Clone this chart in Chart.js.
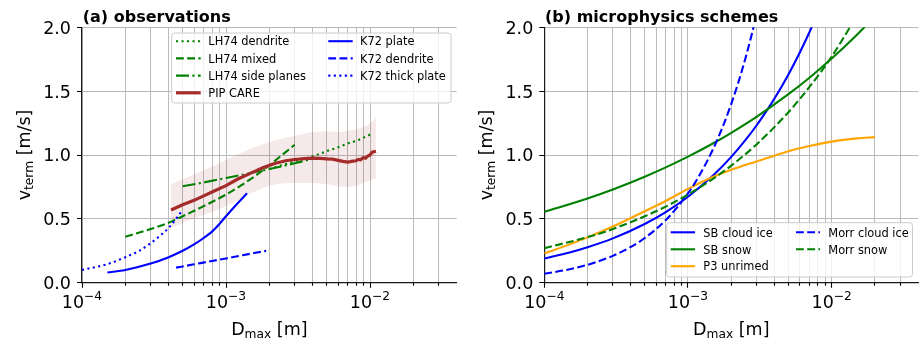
<!DOCTYPE html>
<html>
<head>
<meta charset="utf-8">
<script src="https://cdn.jsdelivr.net/npm/chart.js@4.4.1/dist/chart.umd.min.js"></script>
<style>
  html, body { margin:0; padding:0; background:#ffffff; }
  #wrap { position:relative; width:920px; height:341px; overflow:hidden; background:#fff; }
  canvas { position:absolute; top:0; }
  #c1 { left:0; }
  #c2 { left:460px; }
</style>
</head>
<body>
<div id="wrap">
  <canvas id="c1" width="460" height="341" style="width:460px;height:341px"></canvas>
  <canvas id="c2" width="460" height="341" style="width:460px;height:341px"></canvas>
</div>
<script>
// ================= DATA: (a) observations =================
const lh74DendriteD = [2e-3, 3e-3, 4e-3, 5e-3, 6e-3, 7e-3, 8e-3, 1e-2];
const lh74DendriteV = [0.89, 0.95, 0.99, 1.03, 1.06, 1.09, 1.11, 1.16];

const lh74MixedD = [2e-4, 3e-4, 4e-4, 5e-4, 7e-4, 1e-3, 1.5e-3, 2e-3, 3e-3];
const lh74MixedV = [0.36, 0.42, 0.47, 0.52, 0.60, 0.69, 0.815, 0.92, 1.08];

const lh74SidePlanesD = [5e-4, 7e-4, 1e-3, 1.5e-3, 2e-3, 3e-3, 4e-3];
const lh74SidePlanesV = [0.755, 0.785, 0.82, 0.86, 0.89, 0.935, 0.97];

const pipCareD = [4.15e-4, 5e-4, 6e-4, 7e-4, 8e-4, 1e-3, 1.2e-3, 1.5e-3, 1.8e-3, 2.2e-3, 2.6e-3, 3e-3, 3.5e-3, 4e-3, 4.5e-3, 5e-3, 5.5e-3, 6e-3, 6.5e-3, 7e-3, 7.3e-3, 7.6e-3, 8e-3, 8.3e-3, 8.6e-3, 9e-3, 9.3e-3, 9.6e-3, 1e-2, 1.03e-2, 1.06e-2, 1.1e-2];
const pipCareV = [0.57, 0.61, 0.645, 0.68, 0.71, 0.76, 0.81, 0.86, 0.90, 0.935, 0.955, 0.965, 0.972, 0.975, 0.974, 0.97, 0.968, 0.958, 0.95, 0.945, 0.948, 0.952, 0.955, 0.965, 0.962, 0.98, 0.975, 0.99, 1.0, 1.02, 1.025, 1.03];

const pipBandD = [4.15e-4, 5e-4, 7e-4, 1e-3, 1.5e-3, 2e-3, 3e-3, 4e-3, 5e-3, 6e-3, 7e-3, 8e-3, 9e-3, 1e-2, 1.1e-2];
const pipBandLow = [0.43, 0.47, 0.53, 0.60, 0.70, 0.76, 0.78, 0.78, 0.77, 0.755, 0.75, 0.76, 0.78, 0.80, 0.82];
const pipBandHigh = [0.77, 0.81, 0.88, 0.96, 1.05, 1.10, 1.15, 1.18, 1.185, 1.18, 1.19, 1.20, 1.22, 1.25, 1.29];

const k72PlateD = [1.5e-4, 2e-4, 3e-4, 4e-4, 5e-4, 6e-4, 7e-4, 8e-4, 9e-4, 1e-3, 1.2e-3, 1.4e-3];
const k72PlateV = [0.08, 0.10, 0.15, 0.20, 0.25, 0.30, 0.35, 0.40, 0.46, 0.52, 0.62, 0.70];

const k72DendriteD = [4.5e-4, 6e-4, 8e-4, 1e-3, 1.3e-3, 1.6e-3, 1.9e-3];
const k72DendriteV = [0.118, 0.144, 0.17, 0.19, 0.215, 0.234, 0.249];

const k72ThickPlateD = [1e-4, 1.5e-4, 2e-4, 2.5e-4, 3e-4, 3.5e-4, 4e-4, 4.5e-4, 5e-4];
const k72ThickPlateV = [0.10, 0.145, 0.20, 0.25, 0.31, 0.37, 0.43, 0.50, 0.57];

// ================= DATA: (b) microphysics schemes =================
const sbCloudIceD = [1e-4, 1.5e-4, 2e-4, 3e-4, 5e-4, 7e-4, 1e-3, 1.5e-3, 2e-3, 2.5e-3, 3e-3, 3.5e-3, 4e-3, 5e-3, 6e-3, 7e-3, 7.5e-3];
const sbCloudIceV = [0.19, 0.237, 0.278, 0.347, 0.46, 0.553, 0.673, 0.841, 0.985, 1.114, 1.231, 1.341, 1.442, 1.631, 1.803, 1.961, 2.037];

const sbSnowD = [1e-4, 2e-4, 3e-4, 5e-4, 7e-4, 1e-3, 1.5e-3, 2e-3, 3e-3, 5e-3, 7e-3, 1e-2, 1.5e-2, 2e-2];
const sbSnowV = [0.555, 0.66, 0.73, 0.83, 0.903, 0.987, 1.092, 1.174, 1.299, 1.476, 1.605, 1.755, 1.942, 2.087];

const p3UnrimedD = [1e-4, 1.5e-4, 2e-4, 3e-4, 5e-4, 7e-4, 1e-3, 1.5e-3, 2e-3, 3e-3, 4e-3, 5e-3, 7e-3, 1e-2, 1.5e-2, 2e-2];
const p3UnrimedV = [0.23, 0.30, 0.355, 0.44, 0.56, 0.64, 0.735, 0.83, 0.885, 0.95, 0.995, 1.03, 1.07, 1.105, 1.13, 1.14];

const morrCloudIceD = [1e-4, 1.5e-4, 2e-4, 3e-4, 4e-4, 5e-4, 7e-4, 1e-3, 1.2e-3, 1.5e-3, 1.75e-3, 2e-3, 2.25e-3, 2.5e-3, 2.75e-3, 3e-3];
const morrCloudIceV = [0.07, 0.105, 0.14, 0.21, 0.28, 0.35, 0.49, 0.70, 0.84, 1.05, 1.225, 1.40, 1.575, 1.75, 1.925, 2.10];

const morrSnowD = [1e-4, 2e-4, 3e-4, 5e-4, 7e-4, 1e-3, 1.5e-3, 2e-3, 3e-3, 5e-3, 7e-3, 1e-2, 1.2e-2, 1.4e-2];
const morrSnowV = [0.27, 0.357, 0.42, 0.52, 0.596, 0.69, 0.815, 0.917, 1.083, 1.335, 1.533, 1.77, 1.912, 2.036];

// ================= AXES =================
const xMin = 1e-4, xMax = 0.04;
const yMin = 0, yMax = 2;
const yTicks = [0, 0.5, 1.0, 1.5, 2.0];
const yTickLabels = ['0.0', '0.5', '1.0', '1.5', '2.0'];
const xMajorTicks = [1e-4, 1e-3, 1e-2];
const xMajorBase = ['10', '10', '10'];
const xMajorExp = ['\u22124', '\u22123', '\u22122'];
const xGridMantissas = [1, 2, 3, 4, 5, 6, 7, 8, 9];
const xGridDecades = [-4, -3, -2];

// ================= STYLE =================
const FONT = '"DejaVu Sans", "Liberation Sans", sans-serif';
const DASHED = [7.8, 3.4];
const DOTTED = [2.1, 3.4];
const DASHDOT = [13, 3.4, 2.1, 3.4];
const LW = 2.1;
const GREEN = '#008000', BLUE = '#0000ff', ORANGE = '#ffa500', BROWN = '#a52a2a';
const GRID = '#bababa';

const gridX = [];
xGridDecades.forEach(e => xGridMantissas.forEach(m => {
  const v = m * Math.pow(10, e);
  if (v < xMax * 0.99) gridX.push({ v: v, major: m === 1 });
}));

function pts(xs, ys) { return xs.map((x, i) => ({ x: x, y: ys[i] })); }

function lineDs(label, xs, ys, color, dash, width, order, smooth) {
  return {
    label: label, data: pts(xs, ys), borderColor: color, backgroundColor: color,
    borderDash: dash, borderWidth: width, pointRadius: 0, pointHoverRadius: 0,
    fill: false, order: order, tension: 0,
    cubicInterpolationMode: smooth ? 'monotone' : 'default', clip: 0
  };
}

function makeScales() {
  return {
    x: {
      type: 'logarithmic', min: xMin, max: xMax,
      afterBuildTicks(s) { s.ticks = gridX.map(g => ({ value: g.v })); },
      ticks: { display: false },
      grid: { color: GRID, lineWidth: 1, drawTicks: false },
      border: { display: true, color: '#1a1a1a', width: 1.2 }
    },
    y: {
      type: 'linear', min: yMin, max: yMax,
      afterBuildTicks(s) { s.ticks = yTicks.map(v => ({ value: v })); },
      ticks: { display: false },
      grid: { color: GRID, lineWidth: 1, drawTicks: false },
      border: { display: true, color: '#1a1a1a', width: 1.2 }
    }
  };
}

function align(p, w) { return Math.round(p - w / 2) + w / 2; }

function drawSubLabel(ctx, parts, cx, baseline, fs) {
  // parts: [text, sub, tail]
  const fsS = fs * 0.7;
  ctx.font = fs + 'px ' + FONT; const w1 = ctx.measureText(parts[0]).width;
  ctx.font = fsS + 'px ' + FONT; const w2 = ctx.measureText(parts[1]).width;
  ctx.font = fs + 'px ' + FONT; const w3 = ctx.measureText(parts[2]).width;
  let x = cx - (w1 + w2 + w3) / 2;
  ctx.textAlign = 'left'; ctx.textBaseline = 'alphabetic';
  ctx.font = fs + 'px ' + FONT; ctx.fillText(parts[0], x, baseline); x += w1;
  ctx.font = fsS + 'px ' + FONT; ctx.fillText(parts[1], x, baseline + 3.2); x += w2;
  ctx.font = fs + 'px ' + FONT; ctx.fillText(parts[2], x, baseline);
}

function drawLegend(ctx, L) {
  ctx.save();
  const r = 3;
  ctx.beginPath();
  ctx.moveTo(L.x + r, L.y); ctx.lineTo(L.x + L.w - r, L.y);
  ctx.arcTo(L.x + L.w, L.y, L.x + L.w, L.y + r, r);
  ctx.lineTo(L.x + L.w, L.y + L.h - r);
  ctx.arcTo(L.x + L.w, L.y + L.h, L.x + L.w - r, L.y + L.h, r);
  ctx.lineTo(L.x + r, L.y + L.h);
  ctx.arcTo(L.x, L.y + L.h, L.x, L.y + L.h - r, r);
  ctx.lineTo(L.x, L.y + r);
  ctx.arcTo(L.x, L.y, L.x + r, L.y, r);
  ctx.closePath();
  ctx.fillStyle = 'rgba(255,255,255,0.8)'; ctx.fill();
  ctx.strokeStyle = '#cccccc'; ctx.lineWidth = 1; ctx.stroke();
  ctx.font = '11.4px ' + FONT; ctx.fillStyle = '#000';
  ctx.textAlign = 'left'; ctx.textBaseline = 'alphabetic';
  L.items.forEach(it => {
    const col = L.cols[it.col], y = L.rows[it.row];
    ctx.setLineDash(it.dash); ctx.lineDashOffset = 0;
    ctx.strokeStyle = it.color; ctx.lineWidth = it.width; ctx.lineCap = 'butt';
    ctx.beginPath(); ctx.moveTo(col.h0, y); ctx.lineTo(col.h1, y); ctx.stroke();
    ctx.setLineDash([]);
    ctx.fillText(it.label, col.t, y + 4.2);
  });
  ctx.restore();
}

function decoPlugin(cfg) {
  return {
    id: 'deco',
    afterDraw(chart) {
      const ctx = chart.ctx, a = chart.chartArea, xs = chart.scales.x, ys = chart.scales.y;
      ctx.save();
      ctx.setLineDash([]);
      // tick marks
      ctx.strokeStyle = '#000'; ctx.lineWidth = 1.1;
      ctx.beginPath();
      yTicks.forEach(v => {
        const py = align(ys.getPixelForValue(v), 1);
        ctx.moveTo(a.left - 5, py); ctx.lineTo(a.left, py);
      });
      gridX.forEach(g => {
        const px = align(xs.getPixelForValue(g.v), 1);
        ctx.moveTo(px, a.bottom); ctx.lineTo(px, a.bottom + (g.major ? 5 : 3));
      });
      ctx.stroke();
      // y tick labels
      ctx.fillStyle = '#000';
      ctx.font = '17.5px ' + FONT; ctx.textAlign = 'right'; ctx.textBaseline = 'alphabetic';
      yTicks.forEach((v, i) => {
        ctx.fillText(yTickLabels[i], a.left - 11, ys.getPixelForValue(v) + 6.4);
      });
      // x tick labels 10^n
      xMajorTicks.forEach((v, i) => {
        const px = xs.getPixelForValue(v);
        ctx.font = '17.5px ' + FONT; const w1 = ctx.measureText(xMajorBase[i]).width;
        ctx.font = '12.25px ' + FONT; const w2 = ctx.measureText(xMajorExp[i]).width;
        const x0 = px - (w1 + w2) / 2;
        ctx.textAlign = 'left';
        ctx.font = '17.5px ' + FONT; ctx.fillText(xMajorBase[i], x0, a.bottom + 25.6);
        ctx.font = '12.25px ' + FONT; ctx.fillText(xMajorExp[i], x0 + w1, a.bottom + 17.3);
      });
      // x axis label
      drawSubLabel(ctx, ['D', 'max', ' [m]'], (a.left + a.right) / 2, 335, 17.5);
      // y axis label (rotated)
      ctx.save();
      ctx.translate(a.left - 52.5, (a.top + a.bottom) / 2);
      ctx.rotate(-Math.PI / 2);
      drawSubLabel(ctx, ['v', 'term', ' [m/s]'], 0, 0, 17.5);
      ctx.restore();
      // panel title
      ctx.font = 'bold 16px ' + FONT; ctx.textAlign = 'left'; ctx.textBaseline = 'alphabetic';
      ctx.fillText(cfg.title, a.left + 0.7, 21.5);
      ctx.restore();
      drawLegend(ctx, cfg.legend);
    }
  };
}

// ================= PANEL (a) =================
const dsA = [
  lineDs('K72 thick plate', k72ThickPlateD, k72ThickPlateV, BLUE, DOTTED, LW, 1, true),
  lineDs('K72 dendrite', k72DendriteD, k72DendriteV, BLUE, DASHED, LW, 2, true),
  lineDs('K72 plate', k72PlateD, k72PlateV, BLUE, [], LW, 3, true),
  lineDs('PIP CARE', pipCareD, pipCareV, BROWN, [], 3.2, 4, false),
  lineDs('LH74 side planes', lh74SidePlanesD, lh74SidePlanesV, GREEN, DASHDOT, LW, 5, true),
  lineDs('LH74 mixed', lh74MixedD, lh74MixedV, GREEN, DASHED, LW, 6, true),
  lineDs('LH74 dendrite', lh74DendriteD, lh74DendriteV, GREEN, DOTTED, LW, 7, true),
  Object.assign(lineDs('PIP band low', pipBandD, pipBandLow, 'rgba(0,0,0,0)', [], 0, 20, true), { fill: false }),
  Object.assign(lineDs('PIP band high', pipBandD, pipBandHigh, 'rgba(0,0,0,0)', [], 0, 21, true), { fill: '-1', backgroundColor: 'rgba(165,42,42,0.1)' })
];

const legendA = {
  x: 171.7, y: 33, w: 279.3, h: 70,
  rows: [41.2, 58.4, 75.6, 92.8],
  cols: [{ h0: 176, h1: 200.7, t: 208.3 }, { h0: 328.3, h1: 352.7, t: 360 }],
  items: [
    { label: 'LH74 dendrite', color: GREEN, dash: DOTTED, width: LW, col: 0, row: 0 },
    { label: 'LH74 mixed', color: GREEN, dash: DASHED, width: LW, col: 0, row: 1 },
    { label: 'LH74 side planes', color: GREEN, dash: DASHDOT, width: LW, col: 0, row: 2 },
    { label: 'PIP CARE', color: BROWN, dash: [], width: 3.2, col: 0, row: 3 },
    { label: 'K72 plate', color: BLUE, dash: [], width: LW, col: 1, row: 0 },
    { label: 'K72 dendrite', color: BLUE, dash: DASHED, width: LW, col: 1, row: 1 },
    { label: 'K72 thick plate', color: BLUE, dash: DOTTED, width: LW, col: 1, row: 2 }
  ]
};

new Chart(document.getElementById('c1'), {
  type: 'line',
  data: { datasets: dsA },
  options: {
    responsive: false, animation: false, devicePixelRatio: 1,
    layout: { padding: { left: 82, right: 3.3, top: 27.3, bottom: 58.3 } },
    plugins: { legend: { display: false }, title: { display: false }, tooltip: { enabled: false } },
    events: [],
    scales: makeScales()
  },
  plugins: [decoPlugin({ title: '(a) observations', legend: legendA })]
});

// ================= PANEL (b) =================
const dsB = [
  lineDs('Morr snow', morrSnowD, morrSnowV, GREEN, DASHED, LW, 1, true),
  lineDs('Morr cloud ice', morrCloudIceD, morrCloudIceV, BLUE, DASHED, LW, 2, true),
  lineDs('P3 unrimed', p3UnrimedD, p3UnrimedV, ORANGE, [], LW, 3, true),
  lineDs('SB snow', sbSnowD, sbSnowV, GREEN, [], LW, 4, true),
  lineDs('SB cloud ice', sbCloudIceD, sbCloudIceV, BLUE, [], LW, 5, true)
];

const legendB = {
  x: 206.7, y: 222.7, w: 245.8, h: 54.3,
  rows: [232.3, 249.3, 266.2],
  cols: [{ h0: 210.7, h1: 235, t: 243.3 }, { h0: 336, h1: 360, t: 368.3 }],
  items: [
    { label: 'SB cloud ice', color: BLUE, dash: [], width: LW, col: 0, row: 0 },
    { label: 'SB snow', color: GREEN, dash: [], width: LW, col: 0, row: 1 },
    { label: 'P3 unrimed', color: ORANGE, dash: [], width: LW, col: 0, row: 2 },
    { label: 'Morr cloud ice', color: BLUE, dash: DASHED, width: LW, col: 1, row: 0 },
    { label: 'Morr snow', color: GREEN, dash: DASHED, width: LW, col: 1, row: 1 }
  ]
};

new Chart(document.getElementById('c2'), {
  type: 'line',
  data: { datasets: dsB },
  options: {
    responsive: false, animation: false, devicePixelRatio: 1,
    layout: { padding: { left: 84.3, right: 1.8, top: 27.3, bottom: 58.3 } },
    plugins: { legend: { display: false }, title: { display: false }, tooltip: { enabled: false } },
    events: [],
    scales: makeScales()
  },
  plugins: [decoPlugin({ title: '(b) microphysics schemes', legend: legendB })]
});
</script>
</body>
</html>
